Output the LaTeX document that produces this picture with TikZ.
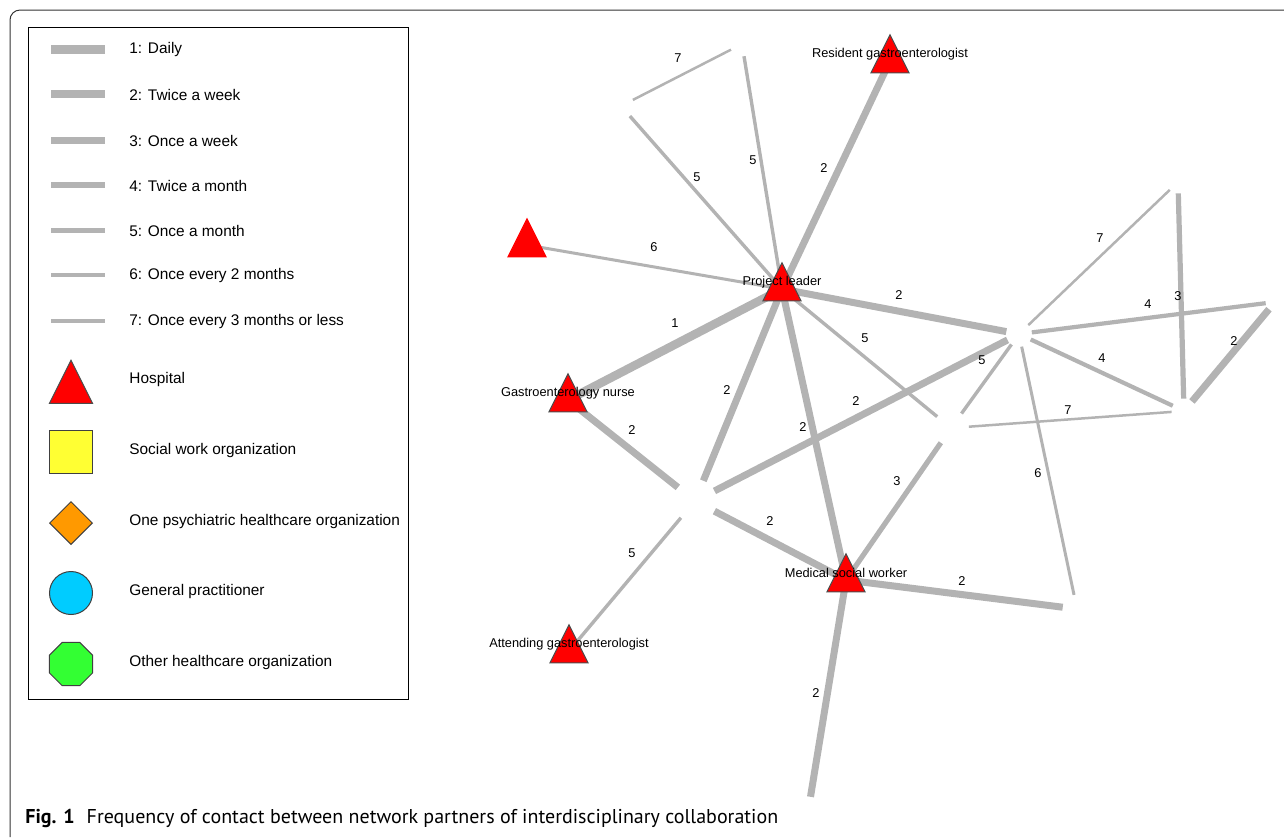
\documentclass[tikz,border=0pt]{standalone}
\usepackage{fontspec}
\setmainfont{Liberation Sans}
\newfontfamily\capfont{PT Sans}
\usetikzlibrary{shapes.geometric,backgrounds}
\definecolor{edgegray}{HTML}{B3B3B3}
\definecolor{hospred}{HTML}{FF0000}
\definecolor{socyellow}{HTML}{FFFF33}
\definecolor{psyorange}{HTML}{FF9900}
\definecolor{gpblue}{HTML}{00CCFF}
\definecolor{othgreen}{HTML}{33FF33}
\tikzset{
  f1/.style={line width=4.3pt}, f2/.style={line width=3.5pt},
  f3/.style={line width=2.6pt}, f4/.style={line width=2.1pt},
  f5/.style={line width=1.7pt}, f6/.style={line width=1.5pt},
  f7/.style={line width=1.25pt}
}
\begin{document}
\begin{tikzpicture}[x=0.5pt,y=-0.5pt,
  link/.style={draw=edgegray},
  ghost/.style={circle, inner sep=0pt, minimum size=#1},
  hosp/.style={isosceles triangle, isosceles triangle apex angle=53.13,
    isosceles triangle stretches, shape border rotate=90,
    minimum width=#1, minimum height=#1, inner sep=0pt,
    fill=hospred, draw=black!70, line width=0.5pt},
  hosp/.default=19pt,
  lbl/.style={font=\fontsize{6.4}{7}\selectfont, inner sep=0pt},
  partner/.style={lbl, yshift=3.5pt},
  legtxt/.style={anchor=west, font=\fontsize{7.7}{9}\selectfont, inner sep=0pt},
  legsym/.style={draw=black!75, line width=0.5pt, inner sep=0pt}]
  \useasboundingbox (0,0) rectangle (1284,837);
  % frame and legend box
  \draw[black!80, line width=0.5pt, rounded corners=5pt] (10,837) -- (10,10) -- (1284,10);
  \draw[line width=0.5pt] (28,27) rectangle (408,699);
  \foreach \l/\lw/\y/\txt in {1/4.5/49/{1: Daily}, 2/4.2/94/{2: Twice a week},
      3/3.5/140/{3: Once a week}, 4/2.8/185/{4: Twice a month},
      5/2.5/230/{5: Once a month}, 6/2/275/{6: Once every 2 months},
      7/1.8/321/{7: Once every 3 months or less}} {
    \draw[edgegray, line width=\lw pt] (51,\y) -- (105,\y);
    \node[legtxt] at (129,\y+1) {\txt};
  }
  \node[hosp=21.5pt] (legH) at (71,390) {};
  \node[legsym, rectangle, fill=socyellow, minimum size=21.5pt] (legS) at (71,452) {};
  \node[legsym, diamond, fill=psyorange, minimum size=21.5pt] (legP) at (71,523) {};
  \node[legsym, circle, fill=gpblue, minimum size=21.5pt] (legG) at (71,593) {};
  \node[legsym, regular polygon, regular polygon sides=8, fill=othgreen, minimum size=23.3pt] (legO) at (71,664) {};
  \node[legtxt] at (129,380) {Hospital};
  \node[legtxt] at (129,451) {Social work organization};
  \node[legtxt] at (129,522) {One psychiatric healthcare organization};
  \node[legtxt] at (129,592) {General practitioner};
  \node[legtxt] at (129,663) {Other healthcare organization};
  % network partners
  \node[hosp, label={[partner]center:Project leader}] (PL) at (782,289) {};
  \node[hosp, label={[partner]center:Resident gastroenterologist}] (RG) at (890,61) {};
  \node[hosp, draw=hospred] (H6) at (527,245) {};
  \node[hosp, label={[partner]center:Gastroenterology nurse}] (GN) at (568,400) {};
  \node[hosp, label={[partner]center:Attending gastroenterologist}] (AG) at (569,651) {};
  \node[hosp, label={[partner]center:Medical social worker}] (MSW) at (846,580) {};
  \node[ghost=12pt] (A) at (742,44) {};
  \node[ghost=13pt] (B) at (621,106) {};
  \node[ghost=12.5pt] (C) at (1019,334) {};
  \node[ghost=21.5pt] (D) at (695,501) {};
  \node[ghost=11pt] (E) at (1178,182) {};
  \node[ghost=12pt] (F) at (1184,411) {};
  \node[ghost=9pt] (G) at (1275,302) {};
  \node[ghost=17.5pt] (H) at (951,428) {};
  \node[ghost=14pt] (I) at (1077,609) {};
  \node[ghost=15pt] (J) at (808,812) {};
  % contacts: from/to/frequency/label position
  \foreach \a/\b/\l/\lx/\ly in {
    PL.center/A/5/753/160, PL.center/B/5/697/177, A/B/7/678/58,
    PL.center/RG.center/2/824/168, PL.center/H6.center/6/654/247,
    PL.center/C/2/899/295, PL.center/GN.center/1/675/323,
    PL.center/D/2/727/390, PL.center/MSW.center/2/803/427,
    PL.center/H/5/865/338, GN.center/D/2/632/430, D/C/2/856/401,
    D/MSW.center/2/770/521, D/AG.center/5/632/553, H/MSW.center/3/897/481,
    C/H/5/982/360, C/I/6/1038/473, C/E/7/1100/238, C/G/4/1148/304,
    C/F/4/1102/358, E/F/3/1178/296, F/G/2/1234/341, F/H/7/1068/410,
    MSW.center/I/2/962/581, MSW.center/J/2/816/693} {
    \begin{pgfonlayer}{background}
      \draw[link, f\l] (\a) -- (\b);
    \end{pgfonlayer}
    \node[lbl] at (\lx,\ly) {\l};
  }
  \node[anchor=west, inner sep=0pt, font=\capfont\fontsize{10}{12}\selectfont] (caption) at (25,818)
    {\textbf{Fig. 1}\hspace{6pt}Frequency of contact between network partners of interdisciplinary collaboration};
\end{tikzpicture}
\end{document}
